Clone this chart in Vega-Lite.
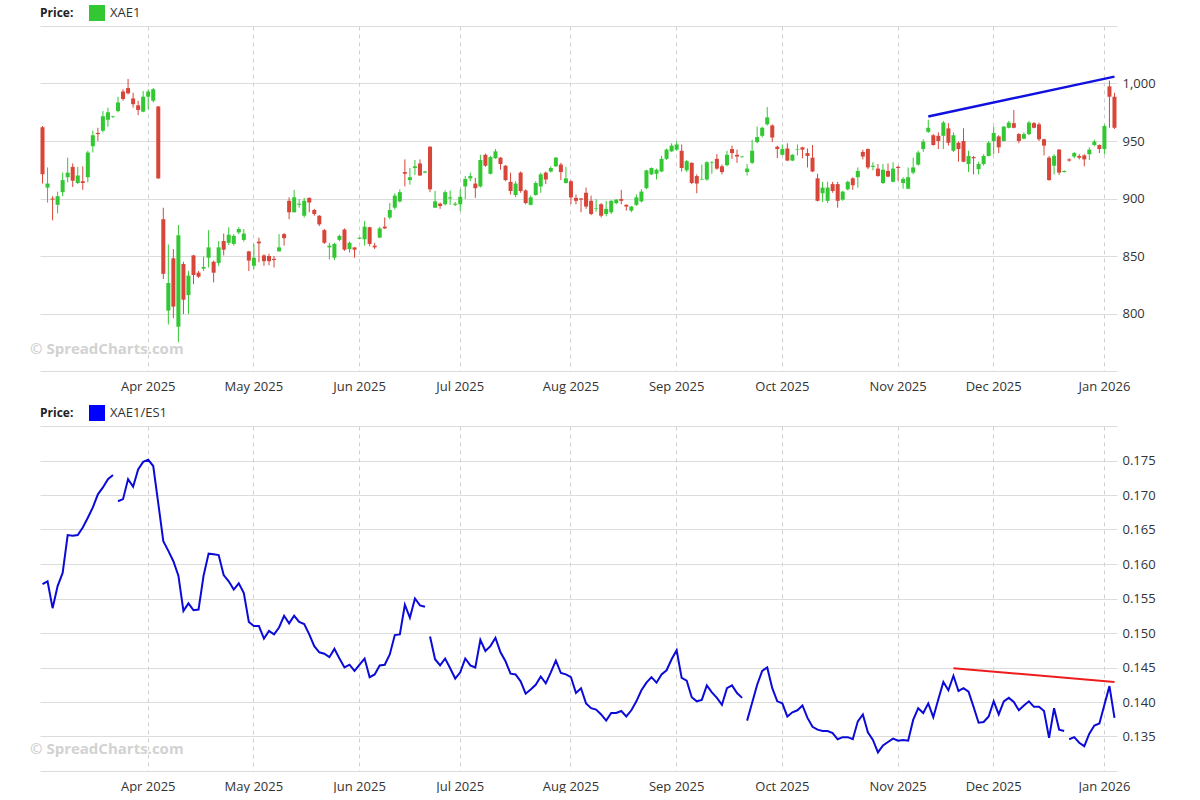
{
"$schema":"https://vega.github.io/schema/vega-lite/v6.json",
"background":"white",
"padding":{"left":30,"top":5,"right":0,"bottom":0},
"spacing":12,
"resolve":{"scale":{"color":"independent"},"legend":{"color":"independent"}},
"config":{
 "font":"Open Sans",
 "view":{"stroke":null},
 "axis":{"labelFont":"Open Sans","labelFontSize":13,"labelColor":"#333333","title":null,"ticks":false,"domain":false,"gridColor":"#dcdcdc","gridWidth":1,"labelOverlap":false},
 "legend":{"orient":"none","legendX":0,"legendY":-21,"direction":"horizontal","titleOrient":"left","titleFont":"Open Sans","titleFontWeight":"bold","titleFontSize":12,"titleColor":"#222222","titlePadding":15,"labelFont":"Open Sans","labelFontSize":13,"labelColor":"#333333","symbolType":"square","symbolSize":256,"symbolStrokeWidth":0,"labelOffset":5}
},
"datasets":{
"days":[
{"d":"2025-03-03","o":962,"h":963,"l":913,"c":921,"r":0.1571,"s":1},
{"d":"2025-03-04","o":909.5,"h":927,"l":896.5,"c":913,"r":0.1575,"s":1},
{"d":"2025-03-05","o":900,"h":902,"l":881,"c":899,"r":0.1536,"s":1},
{"d":"2025-03-06","o":894.5,"h":906,"l":887,"c":902,"r":0.1568,"s":1},
{"d":"2025-03-07","o":905.5,"h":922.5,"l":902,"c":916,"r":0.1587,"s":1},
{"d":"2025-03-10","o":918.5,"h":935.5,"l":914,"c":922.5,"r":0.1642,"s":1},
{"d":"2025-03-11","o":927.5,"h":930.5,"l":910,"c":915.5,"r":0.1641,"s":1},
{"d":"2025-03-12","o":913.5,"h":927.5,"l":912.5,"c":920,"r":0.1642,"s":1},
{"d":"2025-03-13","o":915,"h":928,"l":907.5,"c":913.5,"r":0.1653,"s":1},
{"d":"2025-03-14","o":918.5,"h":941.5,"l":914,"c":940,"r":0.1667,"s":1},
{"d":"2025-03-17","o":945.5,"h":959,"l":940,"c":955,"r":0.1682,"s":1},
{"d":"2025-03-18","o":957,"h":961.5,"l":950,"c":956,"r":0.1701,"s":1},
{"d":"2025-03-19","o":959,"h":976,"l":957.5,"c":971.5,"r":0.1711,"s":1},
{"d":"2025-03-20","o":968.5,"h":979,"l":962.5,"c":975,"r":0.1723,"s":1},
{"d":"2025-03-21","o":971,"h":972,"l":970,"c":971.5,"r":0.1729,"s":1},
{"d":"2025-03-24","o":976,"h":988.5,"l":975,"c":983.5,"r":0.1691,"s":2},
{"d":"2025-03-25","o":993,"h":995,"l":985,"c":986.5,"r":0.1694,"s":2},
{"d":"2025-03-26","o":996,"h":1004,"l":990.5,"c":991.5,"r":0.1723,"s":2},
{"d":"2025-03-27","o":987,"h":992,"l":979,"c":982,"r":0.1712,"s":2},
{"d":"2025-03-28","o":981,"h":985,"l":972.5,"c":977,"r":0.1737,"s":2},
{"d":"2025-03-31","o":975.5,"h":993.5,"l":975,"c":988.5,"r":0.1748,"s":2},
{"d":"2025-04-01","o":988.5,"h":995,"l":977.5,"c":993,"r":0.1751,"s":2},
{"d":"2025-04-02","o":985,"h":996,"l":983.5,"c":995,"r":0.1742,"s":2},
{"d":"2025-04-03","o":980,"h":980.5,"l":917,"c":917.5,"r":0.1688,"s":2},
{"d":"2025-04-04","o":882,"h":892,"l":830,"c":834.5,"r":0.1633,"s":2},
{"d":"2025-04-07","o":802.5,"h":860,"l":790.5,"c":826.5,"r":0.1619,"s":2},
{"d":"2025-04-08","o":848,"h":856,"l":796,"c":806,"r":0.1604,"s":2},
{"d":"2025-04-09","o":788.5,"h":877,"l":775,"c":868,"r":0.1583,"s":2},
{"d":"2025-04-10","o":843,"h":845,"l":799.5,"c":812,"r":0.1532,"s":2},
{"d":"2025-04-11","o":816,"h":837,"l":799.5,"c":833,"r":0.1543,"s":2},
{"d":"2025-04-14","o":850.5,"h":851,"l":825.5,"c":833.5,"r":0.1533,"s":2},
{"d":"2025-04-15","o":835.5,"h":837,"l":831,"c":832,"r":0.1534,"s":2},
{"d":"2025-04-16","o":839,"h":849.5,"l":837,"c":840.5,"r":0.1583,"s":2},
{"d":"2025-04-17","o":848.5,"h":872.5,"l":840,"c":857.5,"r":0.1615,"s":2},
{"d":"2025-04-21","o":845,"h":846,"l":827,"c":835.5,"r":0.1614,"s":2},
{"d":"2025-04-22","o":844,"h":863,"l":841.5,"c":857.5,"r":0.1613,"s":2},
{"d":"2025-04-23","o":863,"h":869.5,"l":850.5,"c":855.5,"r":0.1584,"s":2},
{"d":"2025-04-24","o":861.5,"h":875,"l":859.5,"c":868.5,"r":0.1575,"s":2},
{"d":"2025-04-25","o":860.5,"h":869,"l":859,"c":867.5,"r":0.1563,"s":2},
{"d":"2025-04-28","o":870.5,"h":875,"l":869,"c":873.5,"r":0.1572,"s":2},
{"d":"2025-04-29","o":864,"h":873.5,"l":862.5,"c":869.5,"r":0.1558,"s":2},
{"d":"2025-04-30","o":854,"h":854.5,"l":837,"c":846,"r":0.1516,"s":2},
{"d":"2025-05-01","o":841.5,"h":860.5,"l":838.5,"c":848.5,"r":0.151,"s":2},
{"d":"2025-05-02","o":862.5,"h":866,"l":844.5,"c":861,"r":0.151,"s":2},
{"d":"2025-05-05","o":850.5,"h":851.5,"l":841.5,"c":845.5,"r":0.1492,"s":2},
{"d":"2025-05-06","o":850,"h":852,"l":842,"c":845.5,"r":0.1503,"s":2},
{"d":"2025-05-07","o":847.5,"h":850,"l":840,"c":846.5,"r":0.1498,"s":2},
{"d":"2025-05-08","o":854,"h":869,"l":854,"c":857.5,"r":0.1508,"s":2},
{"d":"2025-05-09","o":869,"h":870,"l":859,"c":865.5,"r":0.1525,"s":2},
{"d":"2025-05-12","o":898,"h":901,"l":882,"c":888,"r":0.1514,"s":2},
{"d":"2025-05-13","o":888,"h":907.5,"l":888,"c":901,"r":0.1525,"s":2},
{"d":"2025-05-14","o":894.5,"h":899.5,"l":892,"c":895.5,"r":0.1516,"s":2},
{"d":"2025-05-15","o":885,"h":900.5,"l":883.5,"c":898,"r":0.1513,"s":2},
{"d":"2025-05-16","o":900.5,"h":901,"l":888,"c":896.5,"r":0.1498,"s":2},
{"d":"2025-05-19","o":890,"h":891,"l":885,"c":886.5,"r":0.1481,"s":2},
{"d":"2025-05-20","o":885,"h":885.5,"l":876,"c":877.5,"r":0.1472,"s":2},
{"d":"2025-05-21","o":872.5,"h":873.5,"l":860.5,"c":861.5,"r":0.147,"s":2},
{"d":"2025-05-22","o":857.5,"h":861.5,"l":847,"c":859,"r":0.1465,"s":2},
{"d":"2025-05-23","o":848.5,"h":861.5,"l":846.5,"c":860.5,"r":0.1477,"s":2},
{"d":"2025-05-27","o":864,"h":868.5,"l":863,"c":867.5,"r":0.1463,"s":2},
{"d":"2025-05-28","o":873,"h":874,"l":854.5,"c":855.5,"r":0.145,"s":2},
{"d":"2025-05-29","o":856,"h":862.5,"l":853,"c":861.5,"r":0.1454,"s":2},
{"d":"2025-05-30","o":857.5,"h":857.5,"l":848.5,"c":855.5,"r":0.1445,"s":2},
{"d":"2025-06-02","o":865,"h":866,"l":864.5,"c":866,"r":0.1454,"s":2},
{"d":"2025-06-03","o":864.5,"h":880.5,"l":859,"c":875.5,"r":0.1463,"s":2},
{"d":"2025-06-04","o":875,"h":875.5,"l":858.5,"c":860.5,"r":0.1436,"s":2},
{"d":"2025-06-05","o":859,"h":861.5,"l":856,"c":857.5,"r":0.144,"s":2},
{"d":"2025-06-06","o":866,"h":875.5,"l":865.5,"c":874,"r":0.1453,"s":2},
{"d":"2025-06-09","o":875.5,"h":883.5,"l":873.5,"c":874,"r":0.1454,"s":2},
{"d":"2025-06-10","o":883.5,"h":896,"l":882,"c":890,"r":0.1469,"s":2},
{"d":"2025-06-11","o":892,"h":904.5,"l":890.5,"c":902.5,"r":0.1497,"s":2},
{"d":"2025-06-12","o":897.5,"h":908,"l":896.5,"c":905.5,"r":0.1498,"s":2},
{"d":"2025-06-13","o":923,"h":934,"l":910.5,"c":921.5,"r":0.1541,"s":2},
{"d":"2025-06-16","o":916,"h":926.5,"l":912,"c":918.5,"r":0.1522,"s":2},
{"d":"2025-06-17","o":926.5,"h":933.5,"l":920.5,"c":928,"r":0.155,"s":2},
{"d":"2025-06-18","o":930.5,"h":934,"l":919.5,"c":920,"r":0.154,"s":2},
{"d":"2025-06-20","o":922.5,"h":924,"l":922,"c":923.5,"r":0.1538,"s":2},
{"d":"2025-06-23","o":945,"h":945.5,"l":905.5,"c":908,"r":0.1495,"s":3},
{"d":"2025-06-24","o":892,"h":906.5,"l":892,"c":897.5,"r":0.1462,"s":3},
{"d":"2025-06-25","o":895.5,"h":896.5,"l":891,"c":893.5,"r":0.1453,"s":3},
{"d":"2025-06-26","o":895,"h":907,"l":894,"c":905.5,"r":0.1463,"s":3},
{"d":"2025-06-27","o":900,"h":907,"l":894.5,"c":901,"r":0.1449,"s":3},
{"d":"2025-06-30","o":894.5,"h":897,"l":893.5,"c":895.5,"r":0.1434,"s":3},
{"d":"2025-07-01","o":895,"h":908,"l":889,"c":901.5,"r":0.1443,"s":3},
{"d":"2025-07-02","o":910.5,"h":919.5,"l":899.5,"c":917,"r":0.1463,"s":3},
{"d":"2025-07-03","o":917.5,"h":922.5,"l":915,"c":919.5,"r":0.1453,"s":3},
{"d":"2025-07-07","o":913,"h":918,"l":900.5,"c":909,"r":0.145,"s":3},
{"d":"2025-07-08","o":910.5,"h":938,"l":909.5,"c":933.5,"r":0.149,"s":3},
{"d":"2025-07-09","o":938,"h":939,"l":927.5,"c":928.5,"r":0.1474,"s":3},
{"d":"2025-07-10","o":921.5,"h":937,"l":921,"c":936,"r":0.1481,"s":3},
{"d":"2025-07-11","o":935,"h":943,"l":934.5,"c":941,"r":0.1493,"s":3},
{"d":"2025-07-14","o":935.5,"h":936,"l":925,"c":930,"r":0.1472,"s":3},
{"d":"2025-07-15","o":928.5,"h":929,"l":915,"c":916,"r":0.1459,"s":3},
{"d":"2025-07-16","o":914.5,"h":922.5,"l":903.5,"c":906.5,"r":0.1441,"s":3},
{"d":"2025-07-17","o":903,"h":915,"l":901,"c":913,"r":0.144,"s":3},
{"d":"2025-07-18","o":922.5,"h":923.5,"l":905,"c":906.5,"r":0.143,"s":3},
{"d":"2025-07-21","o":907,"h":908,"l":895,"c":896,"r":0.1412,"s":3},
{"d":"2025-07-22","o":894.5,"h":902.5,"l":894,"c":901,"r":0.1418,"s":3},
{"d":"2025-07-23","o":903,"h":915,"l":902.5,"c":913.5,"r":0.1425,"s":3},
{"d":"2025-07-24","o":910.5,"h":922.5,"l":905,"c":921,"r":0.1437,"s":3},
{"d":"2025-07-25","o":922.5,"h":923.5,"l":912.5,"c":916.5,"r":0.1427,"s":3},
{"d":"2025-07-28","o":923.5,"h":928,"l":922.5,"c":926.5,"r":0.1443,"s":3},
{"d":"2025-07-29","o":928,"h":936,"l":927.5,"c":935.5,"r":0.146,"s":3},
{"d":"2025-07-30","o":929.5,"h":931,"l":916,"c":923,"r":0.1442,"s":3},
{"d":"2025-07-31","o":913.5,"h":927.5,"l":913,"c":917.5,"r":0.144,"s":3},
{"d":"2025-08-01","o":915,"h":916,"l":895,"c":901,"r":0.1436,"s":3},
{"d":"2025-08-04","o":900.5,"h":903.5,"l":895,"c":898,"r":0.1413,"s":3},
{"d":"2025-08-05","o":900,"h":900.5,"l":888,"c":899,"r":0.142,"s":3},
{"d":"2025-08-06","o":905,"h":909.5,"l":891,"c":893,"r":0.1398,"s":3},
{"d":"2025-08-07","o":898,"h":902.5,"l":885.5,"c":886.5,"r":0.1391,"s":3},
{"d":"2025-08-08","o":891,"h":899.5,"l":888.5,"c":891.5,"r":0.1389,"s":3},
{"d":"2025-08-11","o":895,"h":896,"l":883.5,"c":885,"r":0.1382,"s":3},
{"d":"2025-08-12","o":886.5,"h":898,"l":884.5,"c":891,"r":0.1373,"s":3},
{"d":"2025-08-13","o":888,"h":898.5,"l":886.5,"c":898,"r":0.1384,"s":3},
{"d":"2025-08-14","o":896,"h":899.5,"l":895,"c":899,"r":0.1384,"s":3},
{"d":"2025-08-15","o":899.5,"h":907.5,"l":895,"c":898,"r":0.1387,"s":3},
{"d":"2025-08-18","o":894.5,"h":895,"l":889.5,"c":893,"r":0.1379,"s":3},
{"d":"2025-08-19","o":889.5,"h":893.5,"l":888,"c":893,"r":0.1388,"s":3},
{"d":"2025-08-20","o":894.5,"h":903.5,"l":893.5,"c":901,"r":0.1401,"s":3},
{"d":"2025-08-21","o":897.5,"h":908,"l":896.5,"c":906,"r":0.1417,"s":3},
{"d":"2025-08-22","o":909,"h":925,"l":908,"c":924.5,"r":0.1428,"s":3},
{"d":"2025-08-25","o":921,"h":927,"l":920.5,"c":926.5,"r":0.1436,"s":3},
{"d":"2025-08-26","o":921.5,"h":926,"l":916.5,"c":925,"r":0.1428,"s":3},
{"d":"2025-08-27","o":923.5,"h":937,"l":923,"c":934.5,"r":0.144,"s":3},
{"d":"2025-08-28","o":934.5,"h":943.5,"l":933.5,"c":942.5,"r":0.1446,"s":3},
{"d":"2025-08-29","o":941,"h":948,"l":940.5,"c":946,"r":0.1462,"s":3},
{"d":"2025-09-02","o":942.5,"h":949.5,"l":941.5,"c":947,"r":0.1475,"s":3},
{"d":"2025-09-03","o":941.5,"h":947,"l":923.5,"c":926.5,"r":0.1435,"s":3},
{"d":"2025-09-04","o":924.5,"h":933.5,"l":923,"c":932.5,"r":0.1431,"s":3},
{"d":"2025-09-05","o":931,"h":931.5,"l":912.5,"c":913.5,"r":0.1407,"s":3},
{"d":"2025-09-08","o":919.5,"h":921,"l":904.5,"c":913,"r":0.1401,"s":3},
{"d":"2025-09-09","o":916.5,"h":929.5,"l":916,"c":917,"r":0.1403,"s":3},
{"d":"2025-09-10","o":916.5,"h":932.5,"l":915.5,"c":931.5,"r":0.1424,"s":3},
{"d":"2025-09-11","o":931,"h":932.5,"l":921.5,"c":931.5,"r":0.1414,"s":3},
{"d":"2025-09-12","o":934.5,"h":938.5,"l":925,"c":926,"r":0.1406,"s":3},
{"d":"2025-09-15","o":928,"h":929.5,"l":921,"c":923,"r":0.1396,"s":3},
{"d":"2025-09-16","o":929,"h":941.5,"l":928,"c":938,"r":0.142,"s":3},
{"d":"2025-09-17","o":943,"h":946,"l":934.5,"c":939.5,"r":0.1424,"s":3},
{"d":"2025-09-18","o":938,"h":942.5,"l":931,"c":936.5,"r":0.1413,"s":3},
{"d":"2025-09-19","o":936,"h":937,"l":935.5,"c":936.5,"r":0.1406,"s":3},
{"d":"2025-09-22","o":923,"h":930,"l":920,"c":926,"r":0.1373,"s":4},
{"d":"2025-09-23","o":931,"h":951,"l":930,"c":941.5,"r":0.1399,"s":4},
{"d":"2025-09-24","o":949,"h":962.5,"l":948,"c":953.5,"r":0.1425,"s":4},
{"d":"2025-09-25","o":954.5,"h":962.5,"l":953,"c":961.5,"r":0.1445,"s":4},
{"d":"2025-09-26","o":964.5,"h":979.5,"l":963.5,"c":970.5,"r":0.145,"s":4},
{"d":"2025-09-29","o":963.5,"h":964.5,"l":949,"c":953,"r":0.142,"s":4},
{"d":"2025-09-30","o":945,"h":946,"l":935,"c":943,"r":0.1401,"s":4},
{"d":"2025-10-01","o":938,"h":947,"l":937.5,"c":943,"r":0.1398,"s":4},
{"d":"2025-10-02","o":943.5,"h":948,"l":932.5,"c":933,"r":0.1379,"s":4},
{"d":"2025-10-03","o":933,"h":938.5,"l":932.5,"c":938,"r":0.1385,"s":4},
{"d":"2025-10-06","o":942.5,"h":947,"l":937.5,"c":943,"r":0.1388,"s":4},
{"d":"2025-10-07","o":944.5,"h":945,"l":935,"c":942.5,"r":0.1395,"s":4},
{"d":"2025-10-08","o":939.5,"h":943.5,"l":927,"c":937,"r":0.1377,"s":4},
{"d":"2025-10-09","o":935.5,"h":946.5,"l":923,"c":923.5,"r":0.1364,"s":4},
{"d":"2025-10-10","o":917.5,"h":921.5,"l":897.5,"c":898,"r":0.136,"s":4},
{"d":"2025-10-13","o":904.5,"h":914.5,"l":897,"c":909.5,"r":0.1358,"s":4},
{"d":"2025-10-14","o":898,"h":914.5,"l":896,"c":909.5,"r":0.1358,"s":4},
{"d":"2025-10-15","o":912.5,"h":914.5,"l":905,"c":906.5,"r":0.1355,"s":4},
{"d":"2025-10-16","o":912.5,"h":914.5,"l":892,"c":898,"r":0.1346,"s":4},
{"d":"2025-10-17","o":899,"h":906.5,"l":898,"c":906,"r":0.1349,"s":4},
{"d":"2025-10-20","o":908,"h":915.5,"l":907,"c":914.5,"r":0.1349,"s":4},
{"d":"2025-10-21","o":917.5,"h":918.5,"l":907.5,"c":911.5,"r":0.1346,"s":4},
{"d":"2025-10-22","o":918.5,"h":927,"l":909.5,"c":924,"r":0.1372,"s":4},
{"d":"2025-10-23","o":940.5,"h":942.5,"l":934,"c":936.5,"r":0.1382,"s":4},
{"d":"2025-10-24","o":943,"h":943.5,"l":925.5,"c":927,"r":0.1356,"s":4},
{"d":"2025-10-27","o":927.5,"h":931.5,"l":924.5,"c":928.5,"r":0.1345,"s":4},
{"d":"2025-10-28","o":926,"h":930,"l":919,"c":919.5,"r":0.1327,"s":4},
{"d":"2025-10-29","o":913.5,"h":930,"l":912.5,"c":925,"r":0.1337,"s":4},
{"d":"2025-10-30","o":924,"h":930.5,"l":918.5,"c":919,"r":0.1342,"s":4},
{"d":"2025-10-31","o":914.5,"h":931.5,"l":914,"c":926,"r":0.1347,"s":4},
{"d":"2025-11-03","o":927.5,"h":928.5,"l":915.5,"c":926.5,"r":0.1344,"s":4},
{"d":"2025-11-04","o":913.5,"h":918.5,"l":908.5,"c":917,"r":0.1345,"s":4},
{"d":"2025-11-05","o":908.5,"h":927,"l":908,"c":918.5,"r":0.1344,"s":4},
{"d":"2025-11-06","o":922.5,"h":935.5,"l":921,"c":927,"r":0.1374,"s":4},
{"d":"2025-11-07","o":929.5,"h":941.5,"l":928.5,"c":940,"r":0.1391,"s":4},
{"d":"2025-11-10","o":943,"h":951.5,"l":940.5,"c":949.5,"r":0.1384,"s":4},
{"d":"2025-11-11","o":958,"h":968.5,"l":957,"c":961.5,"r":0.1398,"s":4},
{"d":"2025-11-12","o":955,"h":956,"l":946,"c":946.5,"r":0.1378,"s":4},
{"d":"2025-11-13","o":954.5,"h":957.5,"l":943,"c":950,"r":0.1404,"s":4},
{"d":"2025-11-14","o":954.5,"h":967.5,"l":943,"c":966,"r":0.1429,"s":4},
{"d":"2025-11-17","o":961,"h":965.5,"l":946,"c":948.5,"r":0.1417,"s":4},
{"d":"2025-11-18","o":941.5,"h":957.5,"l":940.5,"c":955,"r":0.1438,"s":4},
{"d":"2025-11-19","o":948.5,"h":949.5,"l":932,"c":943,"r":0.1416,"s":4},
{"d":"2025-11-20","o":950,"h":961,"l":931.5,"c":932,"r":0.142,"s":4},
{"d":"2025-11-21","o":930,"h":941.5,"l":923,"c":937,"r":0.1415,"s":4},
{"d":"2025-11-24","o":936,"h":937,"l":921,"c":935,"r":0.1393,"s":4},
{"d":"2025-11-25","o":925.5,"h":932,"l":921,"c":930,"r":0.137,"s":4},
{"d":"2025-11-26","o":930,"h":938.5,"l":928.5,"c":937,"r":0.1371,"s":4},
{"d":"2025-11-28","o":937,"h":950,"l":936.5,"c":948.5,"r":0.1379,"s":4},
{"d":"2025-12-01","o":950,"h":962.5,"l":938.5,"c":957,"r":0.1401,"s":4},
{"d":"2025-12-02","o":954,"h":955,"l":939.5,"c":944.5,"r":0.1382,"s":4},
{"d":"2025-12-03","o":950,"h":963,"l":949.5,"c":962.5,"r":0.1401,"s":4},
{"d":"2025-12-04","o":961.5,"h":967.5,"l":961,"c":966,"r":0.1406,"s":4},
{"d":"2025-12-05","o":965.5,"h":977,"l":961,"c":961.5,"r":0.14,"s":4},
{"d":"2025-12-08","o":956,"h":957,"l":948,"c":950,"r":0.1388,"s":4},
{"d":"2025-12-09","o":952,"h":957.5,"l":951.5,"c":956,"r":0.1395,"s":4},
{"d":"2025-12-10","o":956,"h":967.5,"l":955,"c":966,"r":0.1401,"s":4},
{"d":"2025-12-11","o":965.5,"h":966.5,"l":961,"c":961.5,"r":0.1393,"s":4},
{"d":"2025-12-12","o":964.5,"h":966,"l":950,"c":951.5,"r":0.1393,"s":4},
{"d":"2025-12-15","o":951.5,"h":952,"l":937.5,"c":946,"r":0.1387,"s":4},
{"d":"2025-12-16","o":935.5,"h":937,"l":915.5,"c":916,"r":0.1348,"s":4},
{"d":"2025-12-17","o":928.5,"h":938.5,"l":921,"c":937,"r":0.1391,"s":4},
{"d":"2025-12-18","o":942.5,"h":943,"l":920.5,"c":922.5,"r":0.136,"s":4},
{"d":"2025-12-19","o":923,"h":924.5,"l":922.5,"c":924,"r":0.1358,"s":4},
{"d":"2025-12-22","o":934,"h":935,"l":932,"c":933,"r":0.1346,"s":5},
{"d":"2025-12-23","o":936.5,"h":940.5,"l":935,"c":939.5,"r":0.1349,"s":5},
{"d":"2025-12-24","o":937,"h":938.5,"l":934,"c":935.5,"r":0.1341,"s":5},
{"d":"2025-12-26","o":937.5,"h":938.5,"l":928,"c":934,"r":0.1336,"s":5},
{"d":"2025-12-29","o":938.5,"h":944.5,"l":933.5,"c":942.5,"r":0.1354,"s":5},
{"d":"2025-12-30","o":946.5,"h":951,"l":945.5,"c":949.5,"r":0.1366,"s":5},
{"d":"2025-12-31","o":946.5,"h":947,"l":939.5,"c":943,"r":0.1369,"s":5},
{"d":"2026-01-02","o":943,"h":964.5,"l":938.5,"c":963,"r":0.1396,"s":5},
{"d":"2026-01-05","o":997.5,"h":1002.5,"l":961.5,"c":988.5,"r":0.1423,"s":5},
{"d":"2026-01-06","o":988.5,"h":992,"l":960.5,"c":961.5,"r":0.1377,"s":5}
],
"trendTop":[{"d":"2025-11-11","v":971.3},{"d":"2026-01-06","v":1006}],
"trendBottom":[{"d":"2025-11-18","v":0.1449},{"d":"2026-01-06","v":0.1429}]
},
"vconcat":[
{
 "width":1077,"height":345,
 "title":{"text":"© SpreadCharts.com","orient":"bottom","anchor":"start","frame":"group","offset":-51,"dx":-10,"font":"Open Sans","fontSize":15,"fontWeight":"bold","color":"#d2d2d2"},
 "data":{"name":"days"},
 "encoding":{"x":{"field":"d","type":"ordinal","scale":{"type":"band","paddingInner":0,"paddingOuter":0},
   "axis":{"values":["2025-04-01","2025-05-01","2025-06-02","2025-07-01","2025-08-01","2025-09-02","2025-10-01","2025-11-03","2025-12-01","2026-01-02"],"labelExpr":"utcFormat(toDate(datum.value), '%b %Y')","labelAngle":0,"grid":true,"gridDash":[4,4],"gridColor":"#cfcfcf","bandPosition":0.5,"labelPadding":9}}},
 "layer":[
  {"mark":{"type":"rule","strokeWidth":1},
   "encoding":{"y":{"field":"l","type":"quantitative","scale":{"domain":[750,1050],"nice":false,"zero":false},
      "axis":{"orient":"right","values":[750,800,850,900,950,1000,1050],"tickCount":20,"labelExpr":"datum.value < 800 || datum.value > 1000 ? '' : format(datum.value, ',')","labelPadding":5}},
    "y2":{"field":"h"},
    "color":{"condition":{"test":"datum.c < datum.o","value":"#d8463a"},"value":"#33c833"}}},
  {"mark":{"type":"bar","width":{"band":0.8}},
   "encoding":{"y":{"field":"o","type":"quantitative"},"y2":{"field":"c"},
    "color":{"datum":"XAE1","condition":{"test":"datum.c < datum.o","value":"#d8463a"},"scale":{"range":["#33c833"]},"legend":{"title":"Price:"}}}},
  {"data":{"name":"trendTop"},"mark":{"type":"line","color":"#1010e0","strokeWidth":2.5},
   "encoding":{"y":{"field":"v","type":"quantitative"}}}
 ]
},
{
 "width":1077,"height":345,
 "title":{"text":"© SpreadCharts.com","orient":"bottom","anchor":"start","frame":"group","offset":-51,"dx":-10,"font":"Open Sans","fontSize":15,"fontWeight":"bold","color":"#d2d2d2"},
 "data":{"name":"days"},
 "encoding":{"x":{"field":"d","type":"ordinal","scale":{"type":"band","paddingInner":0,"paddingOuter":0},
   "axis":{"values":["2025-04-01","2025-05-01","2025-06-02","2025-07-01","2025-08-01","2025-09-02","2025-10-01","2025-11-03","2025-12-01","2026-01-02"],"labelExpr":"utcFormat(toDate(datum.value), '%b %Y')","labelAngle":0,"grid":true,"gridDash":[4,4],"gridColor":"#cfcfcf","bandPosition":0.5,"labelPadding":9}}},
 "layer":[
  {"mark":{"type":"line","strokeWidth":2},
   "encoding":{"y":{"field":"r","type":"quantitative","scale":{"domain":[0.13,0.18],"nice":false,"zero":false},
      "axis":{"orient":"right","values":[0.13,0.135,0.14,0.145,0.15,0.155,0.16,0.165,0.17,0.175,0.18],"tickCount":30,"labelExpr":"datum.value < 0.1349 || datum.value > 0.1751 ? '' : format(datum.value, '.3f')","labelPadding":5}},
    "detail":{"field":"s","type":"nominal"},
    "color":{"datum":"XAE1/ES1","scale":{"range":["#0b0bd8"]},"legend":{"title":"Price:","symbolType":"square","encode":{"symbols":{"update":{"fill":{"value":"#0000ff"},"stroke":{"value":"#0000ff"},"strokeWidth":{"value":0}}}}}}}},
  {"data":{"name":"trendBottom"},"mark":{"type":"line","color":"#ee1c1c","strokeWidth":2},
   "encoding":{"y":{"field":"v","type":"quantitative"}}}
 ]
}
]
}
